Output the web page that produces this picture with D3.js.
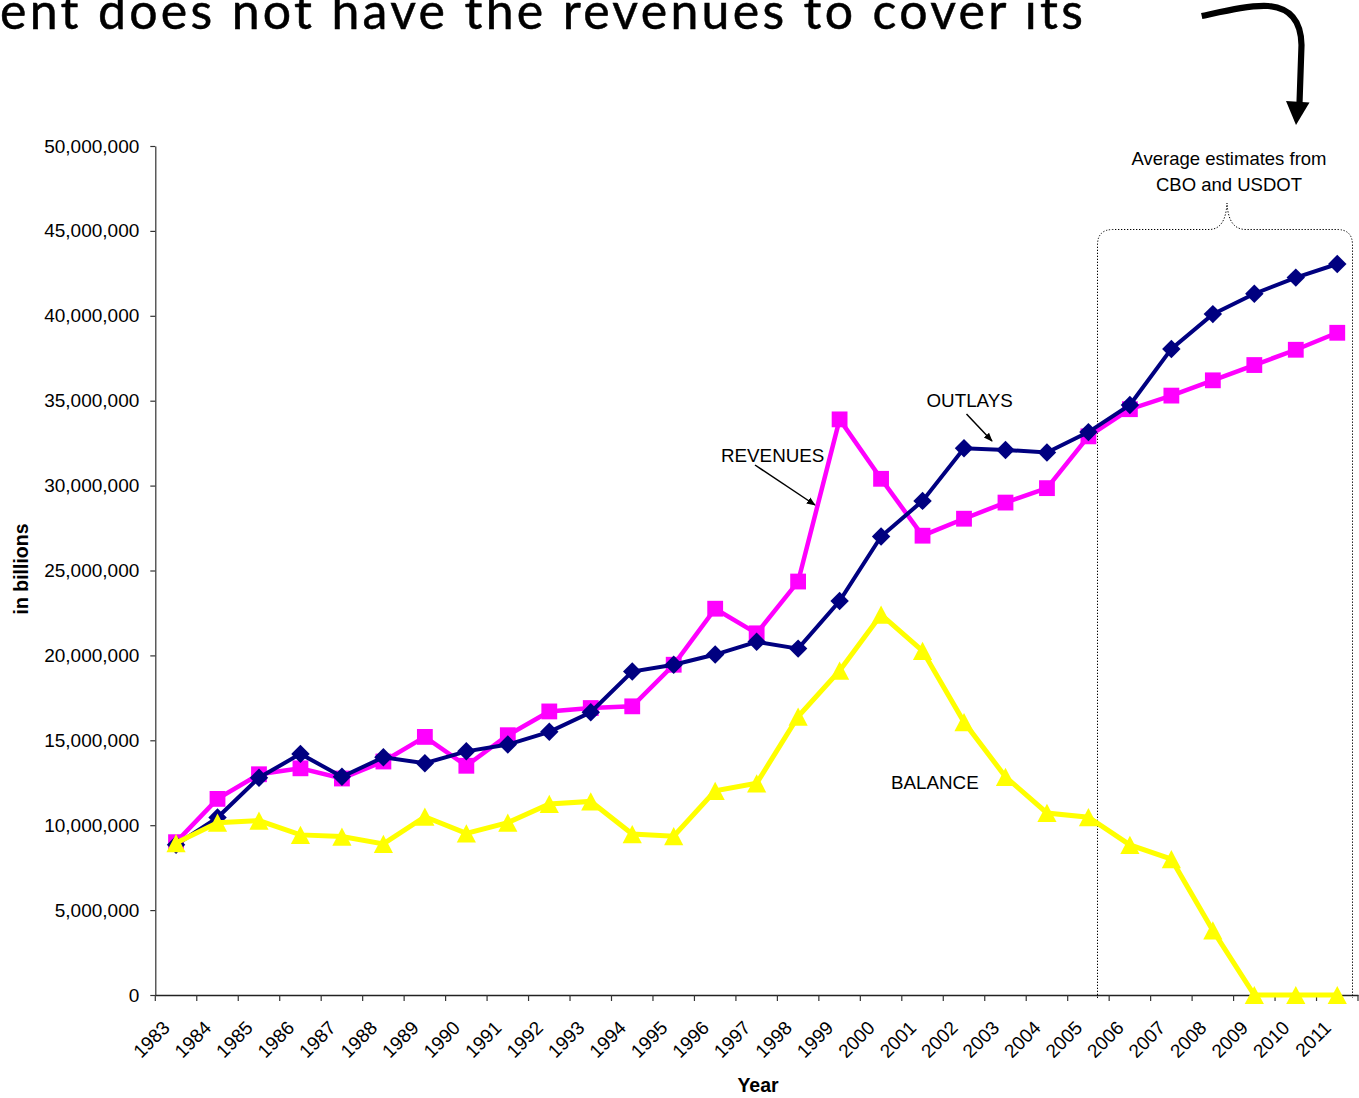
<!DOCTYPE html>
<html>
<head>
<meta charset="utf-8">
<script src="https://cdn.jsdelivr.net/npm/d3@7"></script>
<style>
  html, body { margin: 0; padding: 0; background: #fff; }
  svg { display: block; }
  text { font-family: "Liberation Sans", Arial, sans-serif; fill: #000; }
</style>
</head>
<body>
<svg id="chart" width="1359" height="1098"></svg>
<script>
// Highway trust fund: revenues, outlays and remaining balance by year
const years = ["1983","1984","1985","1986","1987","1988","1989","1990","1991","1992",
  "1993","1994","1995","1996","1997","1998","1999","2000","2001","2002",
  "2003","2004","2005","2006","2007","2008","2009","2010","2011"];

const revenues = [9000000, 11550000, 13000000, 13350000, 12750000, 13750000, 15200000,
  13500000, 15300000, 16700000, 16900000, 17000000, 19450000, 22750000, 21300000,
  24350000, 33900000, 30400000, 27050000, 28050000, 29000000, 29850000, 32900000,
  34500000, 35300000, 36200000, 37100000, 38000000, 39000000];

const outlays = [8850000, 10450000, 12800000, 14200000, 12850000, 14000000, 13650000,
  14350000, 14750000, 15500000, 16650000, 19050000, 19450000, 20050000, 20800000,
  20400000, 23200000, 27000000, 29100000, 32200000, 32100000, 31950000, 33150000,
  34750000, 38050000, 40100000, 41300000, 42250000, 43050000];

const balance = [8950000, 10150000, 10270000, 9430000, 9330000, 8900000, 10500000,
  9520000, 10150000, 11250000, 11400000, 9480000, 9350000, 12020000, 12470000,
  16400000, 19100000, 22400000, 20270000, 16070000, 12850000, 10720000, 10470000,
  8840000, 8000000, 3800000, 0, 0, 0];

const yTicks = [0, 5000000, 10000000, 15000000, 20000000, 25000000, 30000000,
  35000000, 40000000, 45000000, 50000000];

const svg = d3.select("#chart");

// plot frame
const plotLeft = 155.3, plotRight = 1358, plotTop = 146, plotBottom = 995;

const x = d3.scaleBand().domain(years).range([plotLeft, plotRight]).padding(0);
const cx = d => x(d) + x.bandwidth() / 2;
const y = d3.scaleLinear().domain([0, 50000000]).range([plotBottom, plotTop]);

// headline fragment across the top (runs off the top edge of the slide)
svg.append("text")
  .attr("x", 0).attr("y", 29)
  .attr("textLength", 1083).attr("lengthAdjust", "spacing")
  .style("font-family", "Lato, 'Open Sans', sans-serif")
  .style("font-size", "50px")
  .style("stroke", "#000").style("stroke-width", 0.5)
  .text("ent does not have the revenues to cover its");

// curved pointer arrow at top right
svg.append("path")
  .attr("d", "M1201.7,16 C1225,11 1250,5 1268,6 C1290,8 1301,20 1301.5,45 L1299.5,103")
  .attr("fill", "none").attr("stroke", "#000").attr("stroke-width", 6.2);
svg.append("path")
  .attr("d", "M1286,101 L1309.5,102.5 L1296,125 Z")
  .attr("fill", "#000");

// y axis
const yAxis = d3.axisLeft(y).tickValues(yTicks).tickFormat(d3.format(","))
  .tickSize(5).tickSizeOuter(0).tickPadding(11);
const gy = svg.append("g").attr("transform", `translate(${plotLeft},0)`).call(yAxis);
gy.select(".domain").attr("stroke", "#333").attr("stroke-width", 1.2);
gy.selectAll(".tick line").attr("stroke", "#333").attr("stroke-width", 1.2);
gy.selectAll(".tick text").style("font-size", "19px")
  .style("font-family", "'Liberation Sans', Arial, sans-serif").attr("fill", "#000");

// x axis: labels at category centres, tick marks at category boundaries
const xAxis = d3.axisBottom(x).tickSize(0).tickSizeOuter(0);
const gx = svg.append("g").attr("transform", `translate(0,${plotBottom})`).call(xAxis);
gx.select(".domain").attr("stroke", "#222").attr("stroke-width", 1.4);
gx.selectAll(".tick text")
  .style("font-size", "19px")
  .style("font-family", "'Liberation Sans', Arial, sans-serif")
  .attr("fill", "#000")
  .attr("text-anchor", "end")
  .attr("dy", 0).attr("y", 0)
  .attr("transform", "translate(-5,34) rotate(-45)");
const boundaries = years.map(d => x(d)).concat([x.range()[1]]);
svg.append("g").selectAll("line").data(boundaries).join("line")
  .attr("x1", d => d).attr("x2", d => d)
  .attr("y1", plotBottom).attr("y2", plotBottom + 6)
  .attr("stroke", "#333").attr("stroke-width", 1.2);

// axis titles
svg.append("text").attr("x", 758).attr("y", 1092)
  .attr("text-anchor", "middle").style("font-weight", "bold").style("font-size", "19.5px")
  .text("Year");
svg.append("text").attr("transform", "translate(28,569) rotate(-90)")
  .attr("text-anchor", "middle").style("font-weight", "bold").style("font-size", "19.5px")
  .text("in billions");

// dotted brace around the projected years
svg.append("path")
  .attr("d", "M1097.5,998 V245 Q1097.5,229.5 1113,229.5 H1209 C1220,229.5 1226,221 1227,203 " +
             "C1228,221 1234,229.5 1246,229.5 H1337 Q1352.5,229.5 1352.5,245 V998")
  .attr("fill", "none").attr("stroke", "#000").attr("stroke-width", 1)
  .attr("stroke-dasharray", "1.3,1.7");
svg.append("text").attr("x", 1229).attr("y", 165).attr("text-anchor", "middle")
  .style("font-size", "18.5px").text("Average estimates from");
svg.append("text").attr("x", 1229).attr("y", 191).attr("text-anchor", "middle")
  .style("font-size", "18.5px").text("CBO and USDOT");

// triangle centred on its bounding box, as a d3.symbol type
const boxTriangle = {
  draw(ctx, size) {
    const w = Math.sqrt(size * 2 / 0.95);
    const h = w * 0.95;
    ctx.moveTo(0, -h / 2);
    ctx.lineTo(w / 2, h / 2);
    ctx.lineTo(-w / 2, h / 2);
    ctx.closePath();
  }
};

const series = [
  { name: "REVENUES", values: revenues, color: "#FF00FF", width: 4.5,
    symbol: d3.symbol(d3.symbolSquare, 250), rot: 0 },
  { name: "OUTLAYS", values: outlays, color: "#000080", width: 4,
    symbol: d3.symbol(d3.symbolSquare, 170), rot: 45 },
  { name: "BALANCE", values: balance, color: "#FFFF00", width: 5,
    symbol: d3.symbol(boxTriangle, 175), rot: 0 }
];

const line = d3.line().x(d => cx(d[0])).y(d => y(d[1]));

series.forEach(s => {
  const pts = years.map((yr, i) => [yr, s.values[i]]);
  const g = svg.append("g");
  g.append("path").datum(pts)
    .attr("d", line)
    .attr("fill", "none").attr("stroke", s.color)
    .attr("stroke-width", s.width).attr("stroke-linejoin", "miter");
  g.selectAll("path.m").data(pts).join("path").attr("class", "m")
    .attr("d", s.symbol)
    .attr("transform", d => `translate(${cx(d[0])},${y(d[1])}) rotate(${s.rot})`)
    .attr("fill", s.color);
});

// series call-outs
const defs = svg.append("defs");
defs.append("marker").attr("id", "ah").attr("viewBox", "0 0 10 10")
  .attr("refX", 9).attr("refY", 5).attr("markerWidth", 9).attr("markerHeight", 9)
  .attr("markerUnits", "userSpaceOnUse").attr("orient", "auto")
  .append("path").attr("d", "M0,1 L10,5 L0,9 Z").attr("fill", "#000");

svg.append("text").attr("x", 721).attr("y", 462).style("font-size", "18.8px").text("REVENUES");
svg.append("line").attr("x1", 755).attr("y1", 465).attr("x2", 815).attr("y2", 505)
  .attr("stroke", "#000").attr("stroke-width", 1.5).attr("marker-end", "url(#ah)");

svg.append("text").attr("x", 926.5).attr("y", 407).style("font-size", "18.8px").text("OUTLAYS");
svg.append("line").attr("x1", 966.5).attr("y1", 414).attr("x2", 992).attr("y2", 441)
  .attr("stroke", "#000").attr("stroke-width", 1.5).attr("marker-end", "url(#ah)");

svg.append("text").attr("x", 891).attr("y", 789).style("font-size", "18.8px").text("BALANCE");
</script>
</body>
</html>
